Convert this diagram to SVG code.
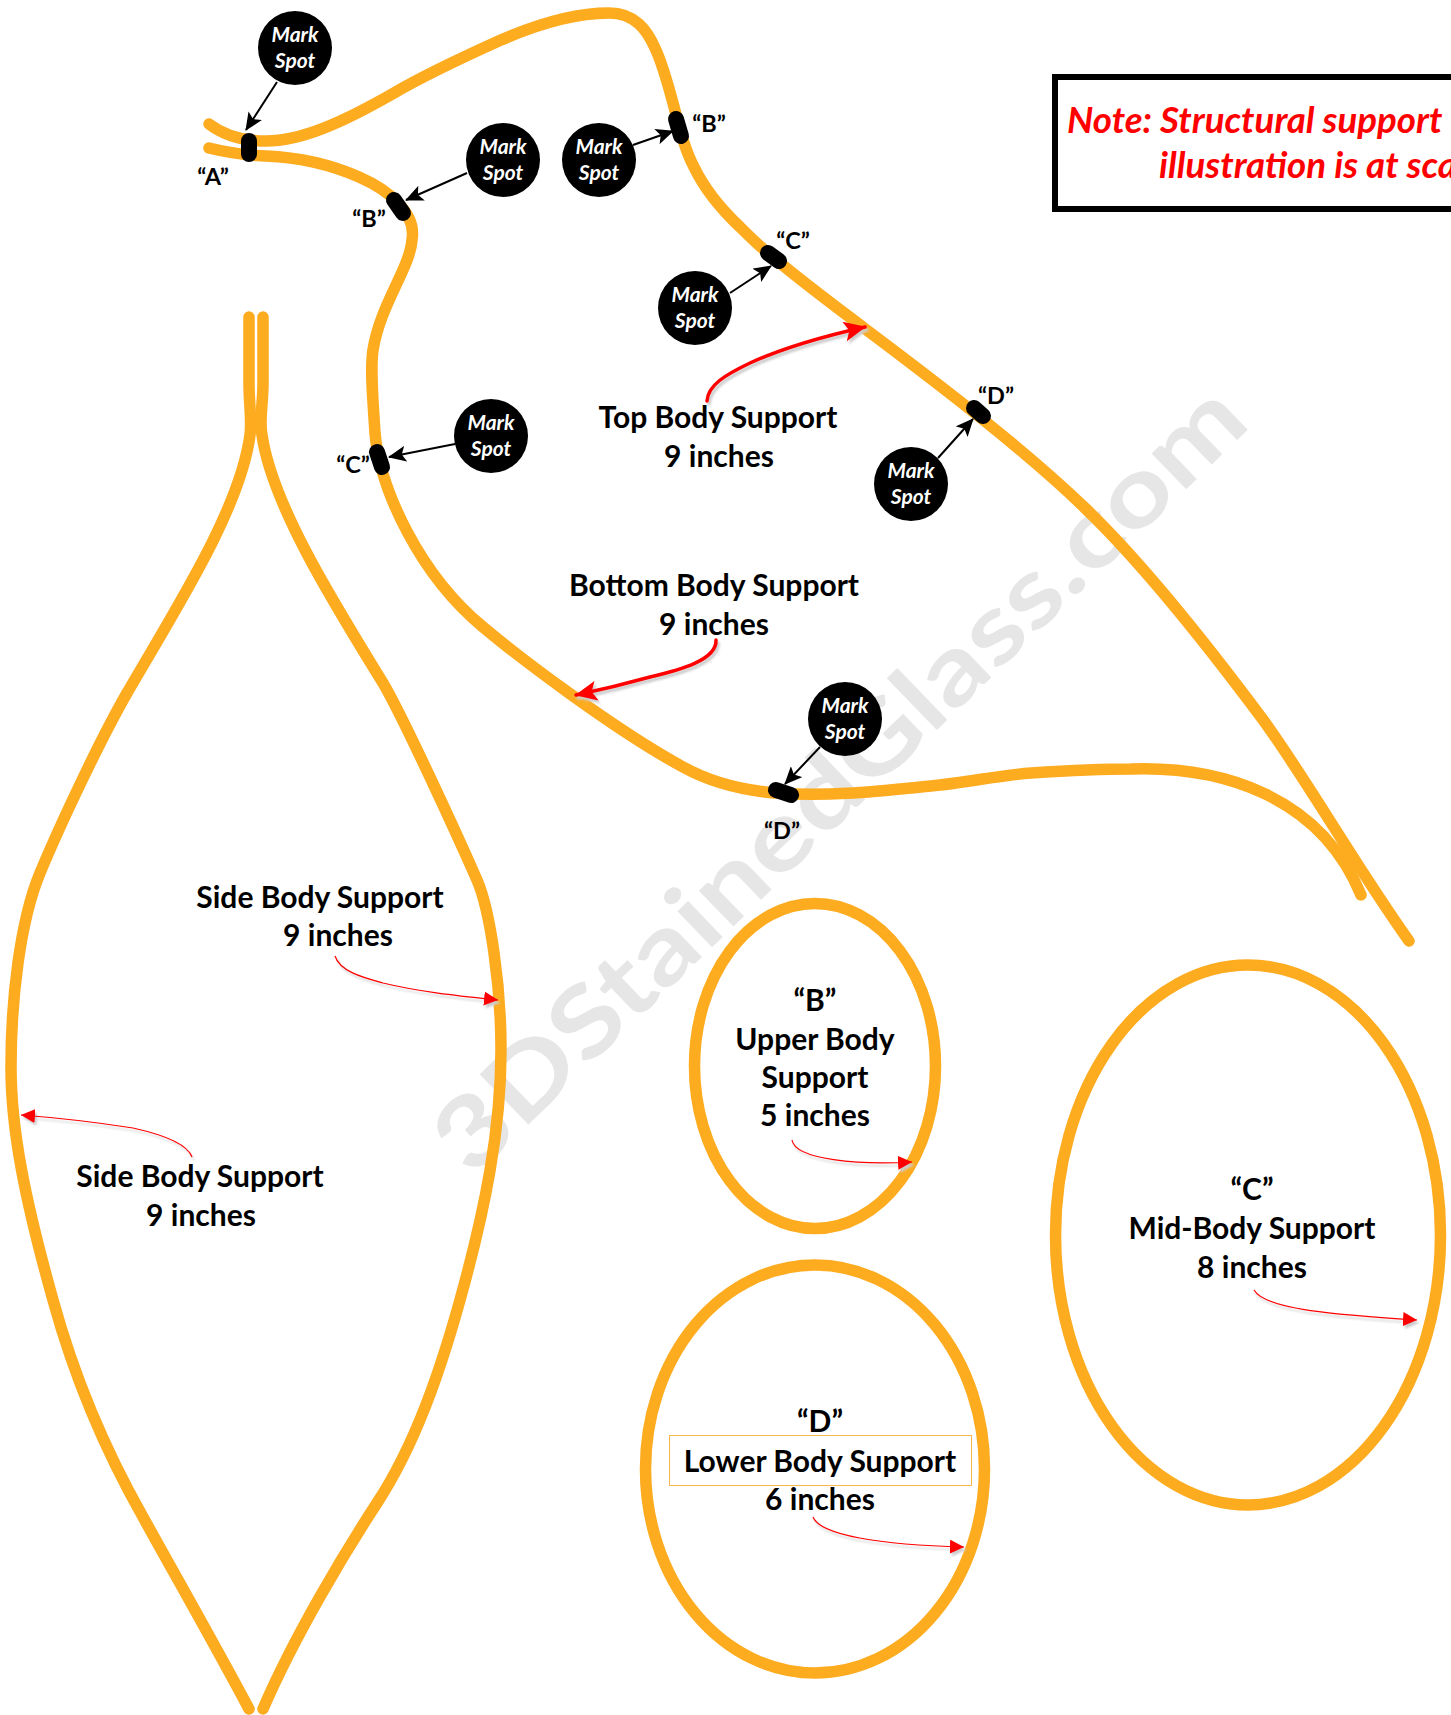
<svg xmlns="http://www.w3.org/2000/svg" width="1451" height="1715" viewBox="0 0 1451 1715">
<style>
.s{fill:none;stroke:#fdab1f;stroke-width:11.5;stroke-linecap:round;stroke-linejoin:round}
.t{font-family:"Lato","Liberation Sans",sans-serif;font-weight:700;font-size:30px;fill:#000;text-anchor:middle}
.q{font-family:"Lato","Liberation Sans",sans-serif;font-weight:700;font-size:23.5px;fill:#000;text-anchor:middle}
.m{font-family:"Lato","Liberation Sans",sans-serif;font-weight:700;font-style:italic;font-size:21px;fill:#fff;text-anchor:middle}
.n{font-family:"Lato","Liberation Sans",sans-serif;font-weight:700;font-style:italic;font-size:36.7px;fill:#f00}
.w{font-family:"Lato","Liberation Sans",sans-serif;font-weight:700;font-size:97px;fill:#e6e6e6}
.k{fill:none;stroke:#000;stroke-width:16;stroke-linecap:round}
.a{fill:none;stroke:#000;stroke-width:2;marker-end:url(#ab)}
.r{fill:none;stroke:#f00;stroke-width:1.2;marker-end:url(#ar)}
.R{fill:none;stroke:#f00;stroke-width:3.5;stroke-linecap:round;marker-end:url(#aR)}
#red{filter:drop-shadow(2px 3px 1px #ccc)}
</style>
<defs>
<marker id="ab" markerUnits="userSpaceOnUse" markerWidth="18" markerHeight="16" refX="17" refY="8" orient="auto"><path d="M0,0L18,8L0,16L4,8Z" fill="#000"/></marker>
<marker id="ar" markerUnits="userSpaceOnUse" markerWidth="14" markerHeight="14" refX="14" refY="7" orient="auto"><path d="M0,0L14,7L0,14Z" fill="#f00"/></marker>
<marker id="aR" markerUnits="userSpaceOnUse" markerWidth="22" markerHeight="20" refX="21" refY="10" orient="auto"><path d="M0,0L22,10L0,20L5,10Z" fill="#f00"/></marker>
</defs>
<text class="w" transform="translate(472,1179) rotate(-44)" textLength="1085" lengthAdjust="spacingAndGlyphs">3DStainedGlass.com</text>

<g id="supports">
<path id="top-body" class="s" d="M209,124C222,134 240,141 266,141C300,141 340,124 394,93C430,72 470,54 501,40C540,23 575,13 609,13C635,13 647,30 655,48C663,65 668,85 673,103C680,130 685,150 694,167C705,190 722,210 740,227C750,237 760,247 773,257C800,280 835,306 864,328C940,385 1025,450 1085,508C1135,556 1200,635 1264,721C1310,785 1355,865 1409,941"/>
<path id="bottom-body" class="s" d="M209,148C225,152 240,155 266,156C290,157 325,162 359,177C375,184 388,192 398,203C410,215 414,228 412,240C410,268 380,305 373,350C370,370 373,400 375,433C380,490 420,575 483,627C520,658 615,730 683,767C710,782 740,790 775,793C830,797 880,791 931,786C965,783 1000,775 1031,773C1065,770.8 1100,769 1131,769C1220,766 1320,795 1361,895"/>
<path id="side-left" class="s" d="M249,317L249,383C249,405 252,420 250,435C240,510 175,610 127,693C100,740 60,825 40,873C20,921 11,1000 11,1067C11,1130 25,1200 53,1300C75,1380 105,1450 143,1517C175,1575 215,1645 249,1709"/>
<path id="side-right" class="s" d="M263,317L263,383C263,405 259,420 262,435C272,505 335,605 383,683C402,715 455,830 477,880C490,910 501,985 501,1050C501,1130 485,1210 460,1300C440,1372 415,1445 377,1503C345,1552 295,1635 263,1709"/>
<ellipse id="ring-b" class="s" cx="815" cy="1066" rx="120.5" ry="162.5"/>
<ellipse id="ring-d" class="s" cx="815" cy="1469" rx="169.5" ry="204"/>
<ellipse id="ring-c" class="s" cx="1248" cy="1235" rx="192.5" ry="270"/>
</g>

<rect id="note-box" x="1055" y="77" width="420" height="132" fill="#fff" stroke="#000" stroke-width="6"/>
<g id="note">
<text class="n" x="1067" y="133">Note: Structural support</text>
<text class="n" x="1159" y="178">illustration is at sca</text>
</g>

<g id="connectors">
<path class="a" d="M277,82L246,130"/>
<path class="a" d="M467,173L406,200"/>
<path class="a" d="M633,145L673,131"/>
<path class="a" d="M730,293L771,266"/>
<path class="a" d="M455,444L389,457"/>
<path class="a" d="M938,458L973,419"/>
<path class="a" d="M820,747L785,784"/>
<g id="red">
<path class="R" d="M707,401C708,385 725,375 750,363C785,347 825,336 865,327"/>
<path class="R" d="M716,640C717,660 680,670 650,677C625,684 600,690 576,695"/>
<path class="r" d="M335,956C340,972 365,978 383,983C420,992 460,996 498,1000"/>
<path class="r" d="M192,1157C187,1143 160,1134 133,1128C95,1122 60,1118 21,1115"/>
<path class="r" d="M792,1140C795,1160 860,1165 912,1162"/>
<path class="r" d="M1254,1290C1265,1310 1340,1315 1417,1320"/>
<path class="r" d="M813,1517C820,1535 880,1545 964,1547"/>
</g>
</g>

<g id="tick-a"><path class="k" d="M249,141V154"/><text class="q" x="213" y="185">“A”</text></g>
<g id="tick-b1"><path class="k" d="M394,200L403,213"/><text class="q" x="369" y="227">“B”</text></g>
<g id="tick-b2"><path class="k" d="M676,119L681,136"/><text class="q" x="709" y="132">“B”</text></g>
<g id="tick-c1"><path class="k" d="M768,253L779,261"/><text class="q" x="793" y="249">“C”</text></g>
<g id="tick-c2"><path class="k" d="M377,452L382,467"/><text class="q" x="353" y="473">“C”</text></g>
<g id="tick-d1"><path class="k" d="M974,408L983,416"/><text class="q" x="996" y="404">“D”</text></g>
<g id="tick-d2"><path class="k" d="M776,790L791,795"/><text class="q" x="782" y="839">“D”</text></g>

<g id="mark-1"><circle cx="295" cy="48" r="37"/><text class="m" x="295" y="42">Mark</text><text class="m" x="295" y="68">Spot</text></g>
<g id="mark-2"><circle cx="503" cy="160" r="37"/><text class="m" x="503" y="154">Mark</text><text class="m" x="503" y="180">Spot</text></g>
<g id="mark-3"><circle cx="599" cy="160" r="37"/><text class="m" x="599" y="154">Mark</text><text class="m" x="599" y="180">Spot</text></g>
<g id="mark-4"><circle cx="695" cy="308" r="37"/><text class="m" x="695" y="302">Mark</text><text class="m" x="695" y="328">Spot</text></g>
<g id="mark-5"><circle cx="491" cy="436" r="37"/><text class="m" x="491" y="430">Mark</text><text class="m" x="491" y="456">Spot</text></g>
<g id="mark-6"><circle cx="911" cy="484" r="37"/><text class="m" x="911" y="478">Mark</text><text class="m" x="911" y="504">Spot</text></g>
<g id="mark-7"><circle cx="845" cy="719" r="37"/><text class="m" x="845" y="713">Mark</text><text class="m" x="845" y="739">Spot</text></g>

<g id="label-top"><text class="t" x="718" y="428">Top Body Support</text><text class="t" x="719" y="467">9 inches</text></g>
<g id="label-bottom"><text class="t" x="714" y="596">Bottom Body Support</text><text class="t" x="714" y="635">9 inches</text></g>
<g id="label-side1"><text class="t" x="320" y="908">Side Body Support</text><text class="t" x="338" y="946">9 inches</text></g>
<g id="label-side2"><text class="t" x="200" y="1187">Side Body Support</text><text class="t" x="201" y="1226">9 inches</text></g>
<g id="label-b"><text class="t" x="815" y="1011">“B”</text><text class="t" x="815" y="1050">Upper Body</text><text class="t" x="815" y="1088">Support</text><text class="t" x="815" y="1126">5 inches</text></g>
<g id="label-c"><text class="t" x="1252" y="1200">“C”</text><text class="t" x="1252" y="1239">Mid-Body Support</text><text class="t" x="1252" y="1278">8 inches</text></g>
<g id="label-d"><rect x="669.5" y="1435.5" width="302" height="50" fill="none" stroke="#f8b64c" stroke-width="1"/><text class="t" x="820" y="1432">“D”</text><text class="t" x="820" y="1472">Lower Body Support</text><text class="t" x="820" y="1510">6 inches</text></g>
</svg>
